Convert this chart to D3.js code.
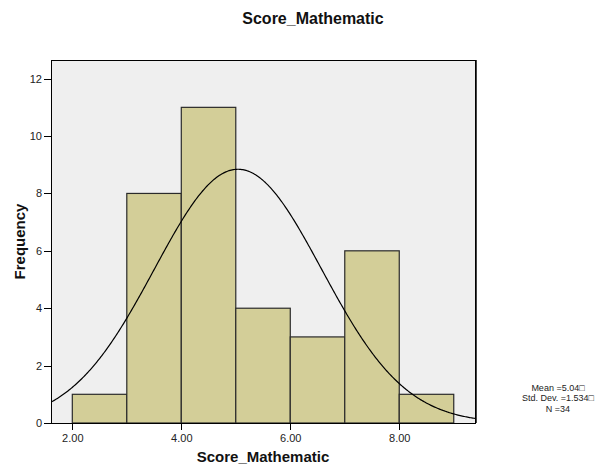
<!DOCTYPE html>
<meta charset="utf-8">
<style>
body { margin: 0; background: #fff; }
svg { font-family: "Liberation Sans", Arial, sans-serif; }
.axis path { display: none; }
.axis line { stroke: #000; shape-rendering: crispEdges; }
.axis text { font-size: 11px; fill: #222; }
.bar { fill: #d3ce98; stroke: #2a2a2a; stroke-width: 1.2; }
</style>
<body></body>
<script src="https://cdnjs.cloudflare.com/ajax/libs/d3/7.8.5/d3.min.js"></script>
<script>
// histogram bins (lower edge, upper edge) and counts
var binStart = [2, 3, 4, 5, 6, 7, 8];
var binEnd   = [3, 4, 5, 6, 7, 8, 9];
var counts   = [1, 8, 11, 4, 3, 6, 1];
var xTicks = [2, 4, 6, 8];
var yTicks = [0, 2, 4, 6, 8, 10, 12];
// summary shown at the right
var mean = 5.04, sd = 1.534, n = 34;
var statLines = ["Mean =5.04\u25a1", "Std. Dev. =1.534\u25a1", "N =34"];

var margin = {top: 60, left: 51},
    width = 424,
    height = 363;

var svg = d3.select("body").append("svg")
    .attr("width", 605)
    .attr("height", 466);

var x = d3.scaleLinear().domain([1.609, 9.39]).range([0, width]);
var y = d3.scaleLinear().domain([0, 12.65]).range([height, 0]);

var g = svg.append("g")
    .attr("transform", "translate(" + margin.left + "," + margin.top + ")");

// plot background
g.append("rect")
    .attr("width", width)
    .attr("height", height)
    .attr("fill", "#efefef");

var bins = counts.map(function(c, i) { return {x0: binStart[i], x1: binEnd[i], c: c}; });

g.selectAll(".bar")
    .data(bins)
  .enter().append("rect")
    .attr("class", "bar")
    .attr("x", function(d) { return x(d.x0); })
    .attr("width", function(d) { return x(d.x1) - x(d.x0); })
    .attr("y", function(d) { return y(d.c); })
    .attr("height", function(d) { return height - y(d.c); });

// normal curve from the shown mean / sd, scaled by N * bin width
g.append("clipPath").attr("id", "clip")
  .append("rect").attr("width", width).attr("height", height);

var xs = d3.range(0, 401).map(function(i) { return x.invert(i * width / 400); });
var curve = d3.line()
    .x(function(v) { return x(v); })
    .y(function(v) {
      var z = (v - mean) / sd;
      return y(n * 1 * Math.exp(-0.5 * z * z) / (sd * Math.sqrt(2 * Math.PI)));
    });

g.append("path")
    .datum(xs)
    .attr("clip-path", "url(#clip)")
    .attr("fill", "none")
    .attr("stroke", "#000")
    .attr("stroke-width", 1.2)
    .attr("d", curve);

// frame
g.append("rect")
    .attr("width", width)
    .attr("height", height)
    .attr("fill", "none")
    .attr("stroke", "#000")
    .attr("shape-rendering", "crispEdges");
g.append("line")
    .attr("x1", width + 1).attr("x2", width + 1)
    .attr("y1", 0).attr("y2", height)
    .attr("stroke", "#444")
    .attr("shape-rendering", "crispEdges");

g.append("g")
    .attr("class", "axis")
    .call(d3.axisLeft(y).tickValues(yTicks).tickSize(7).tickPadding(2));

g.append("g")
    .attr("class", "axis")
    .attr("transform", "translate(0," + height + ")")
    .call(d3.axisBottom(x).tickValues(xTicks).tickFormat(d3.format(".2f")).tickSize(7).tickPadding(4));

// titles
svg.append("text")
    .attr("x", 313).attr("y", 24)
    .attr("text-anchor", "middle")
    .style("font-size", "16px").style("font-weight", "bold").style("fill", "#111")
    .text("Score_Mathematic");

svg.append("text")
    .attr("x", margin.left + width / 2).attr("y", 462)
    .attr("text-anchor", "middle")
    .style("font-size", "15px").style("font-weight", "bold").style("fill", "#111")
    .text("Score_Mathematic");

svg.append("text")
    .attr("transform", "translate(25," + (margin.top + height / 2) + ") rotate(-90)")
    .attr("text-anchor", "middle")
    .style("font-size", "15px").style("font-weight", "bold").style("fill", "#111")
    .text("Frequency");

svg.selectAll(".stat")
    .data(statLines)
  .enter().append("text")
    .attr("class", "stat")
    .attr("x", 558)
    .attr("y", function(d, i) { return 391 + i * 10.4; })
    .attr("text-anchor", "middle")
    .style("font-size", "9px").style("fill", "#222")
    .text(function(d) { return d; });
</script>
